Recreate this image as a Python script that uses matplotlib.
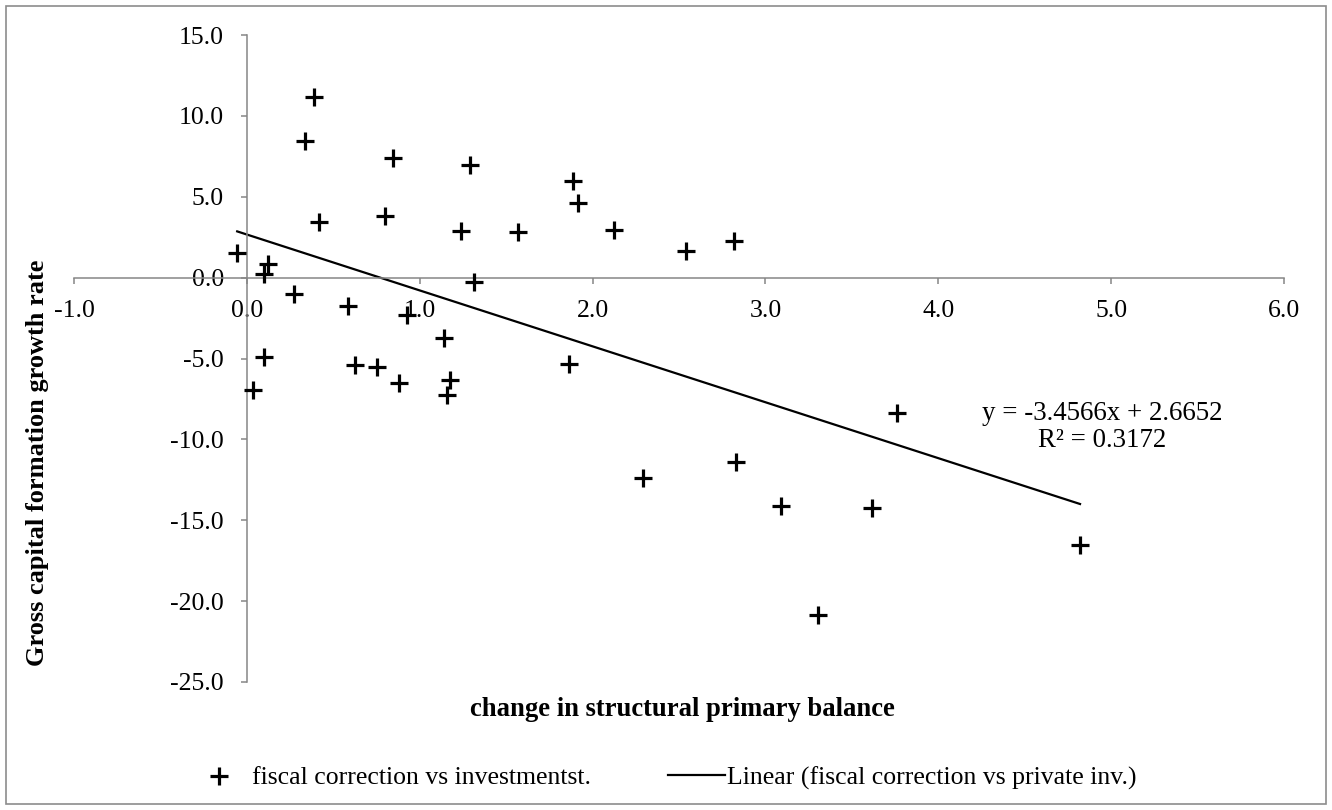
import matplotlib
matplotlib.use("Agg")
import matplotlib.pyplot as plt
from matplotlib.lines import Line2D
from matplotlib.patches import Rectangle
import numpy as np

plt.rcParams['font.family'] = ['Liberation Serif', 'DejaVu Serif']

# ---- data ----
x_vals = [0.389, 0.335, 0.848, 1.292, 0.80, 0.418, 1.238, 1.566, -0.056, 0.12,
          0.10, 0.27, 1.313, 0.588, 0.924, 1.139, 0.10, 0.625, 0.754, 0.879,
          1.174, 1.155, 0.036, 1.884, 1.917, 2.125, 2.541, 2.818, 1.866, 3.761,
          2.831, 2.289, 3.092, 3.619, 4.82, 3.304]
y_vals = [11.15, 8.47, 7.38, 6.97, 3.83, 3.44, 2.91, 2.84, 1.55, 0.85,
          0.25, -1.0, -0.25, -1.75, -2.3, -3.75, -4.88, -5.40, -5.54, -6.53,
          -6.32, -7.25, -6.94, 6.0, 4.6, 2.95, 1.67, 2.27, -5.36, -8.34,
          -11.37, -12.40, -14.09, -14.25, -16.52, -20.85]
trend_slope = -3.4566
trend_intercept = 2.6652
r_squared = 0.3172
x_ticks = [-1, 0, 1, 2, 3, 4, 5, 6]
y_ticks = [-25, -20, -15, -10, -5, 0, 5, 10, 15]
series_label = "fiscal correction vs investmentst."
trend_label = "Linear (fiscal correction vs private inv.)"
x_title = "change in structural primary balance"
y_title = "Gross capital formation growth rate"

W, H = 1332, 810
fig = plt.figure(figsize=(W / 100, H / 100), dpi=100)
fig.patch.set_facecolor('white')

def fx(px):
    return px / W

def fy(py):
    return 1 - py / H

left, right, top, bottom = 74, 1284, 35, 682
ax = fig.add_axes([fx(left), fy(bottom), fx(right) - fx(left), fy(top) - fy(bottom)])
ax.set_xlim(-1, 6)
ax.set_ylim(-25, 15)

gray = '#868686'
ax.spines['top'].set_visible(False)
ax.spines['right'].set_visible(False)
ax.spines['left'].set_position(('data', 0))
ax.spines['bottom'].set_position(('data', 0))
for s in ('left', 'bottom'):
    ax.spines[s].set_color(gray)
    ax.spines[s].set_linewidth(1.1)

ax.set_xticks(x_ticks)
ax.set_yticks(y_ticks)
ax.set_xticklabels([f"{v:.1f}" for v in x_ticks])
ax.set_yticklabels([f"{v:.1f}" for v in y_ticks])
ax.tick_params(axis='both', direction='out', length=4.5, width=1.1, color=gray,
               labelsize=18.5, labelcolor='black')
ax.tick_params(axis='y', pad=12)
ax.tick_params(axis='x', pad=11.5)

# scatter points
ax.plot(x_vals, y_vals, linestyle='none', marker='+', markersize=13,
        markeredgewidth=2.3, color='black', zorder=3)

# linear trendline over the data range
xs = np.array([min(x_vals), max(x_vals)])
ax.plot(xs, trend_slope * xs + trend_intercept, color='black', linewidth=1.6, zorder=2)

# equation text
ax.text(4.95, -9.25,
        f"y = {trend_slope:.4f}x + {trend_intercept:.4f}\nR\u00b2 = {r_squared:.4f}",
        ha='center', va='center', fontsize=19.4, linespacing=1.1)

# axis titles
fig.text(fx(682), fy(709), x_title, ha='center', va='center', fontsize=19.2,
         fontweight='bold')
fig.text(fx(38), fy(463), y_title, ha='center', va='center', fontsize=19,
         fontweight='bold', rotation=90)

# legend (two entries positioned as in the reference)
fs_leg = 18.5
em = fs_leg * 100 / 72.0
h1 = Line2D([], [], linestyle='none', marker='+', markersize=13,
            markeredgewidth=2.3, color='black')
h2 = Line2D([], [], color='black', linewidth=1.6)
fig.legend([h1], [series_label], loc='center left',
           bbox_to_anchor=(fx(202), fy(778)), frameon=False, fontsize=fs_leg,
           handlelength=34 / em, handletextpad=16 / em,
           borderaxespad=0, borderpad=0)
fig.legend([h2], [trend_label], loc='center left',
           bbox_to_anchor=(fx(668), fy(778)), frameon=False, fontsize=fs_leg,
           handlelength=57 / em, handletextpad=2 / em,
           borderaxespad=0, borderpad=0)

# outer chart border
fig.patches.append(Rectangle((fx(6), fy(804)), fx(1326) - fx(6), fy(6) - fy(804),
                             transform=fig.transFigure, fill=False,
                             edgecolor='#8c8c8c', linewidth=1.2))

fig.savefig('out.png', dpi=100)
